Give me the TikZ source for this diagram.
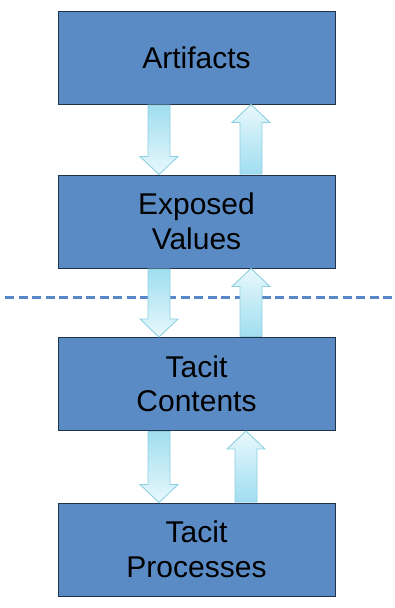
\documentclass[tikz,border=0pt]{standalone}
\usepackage{fontspec}
\setmainfont{Liberation Sans}
\usetikzlibrary{calc}
\definecolor{boxblue}{RGB}{91,139,197}
\definecolor{boxline}{RGB}{35,50,75}
\definecolor{dashblue}{RGB}{88,135,200}
\definecolor{arrdark}{RGB}{160,222,240}
\definecolor{arrlight}{RGB}{232,248,252}
\definecolor{arrline}{RGB}{140,208,226}
\tikzset{
  level/.style={draw=boxline, line width=1pt, fill=boxblue, minimum width=277pt, minimum height=93pt,
    inner sep=0pt, align=center, font=\fontsize{30}{34.5}\selectfont, text=black},
  fatarr/.style={draw=arrline, line width=0.9pt, line join=miter},
  downshade/.style={top color=arrdark, bottom color=arrlight},
  upshade/.style={top color=arrlight, bottom color=arrdark},
  sep/.style={draw=dashblue, line width=3pt, dash pattern=on 9pt off 4.5pt},
}
% #1 tail coordinate, #2 tip coordinate, #3 shading style
\newcommand\fatarrow[3]{%
  \path[fatarr, #3]
    ($(#1)!11pt!90:(#2)$) --
    ($($(#2)!18pt!(#1)$)!11pt!90:(#2)$) --
    ($($(#2)!18pt!(#1)$)!19pt!90:(#2)$) --
    (#2) --
    ($($(#2)!18pt!(#1)$)!19pt!-90:(#2)$) --
    ($($(#2)!18pt!(#1)$)!11pt!-90:(#2)$) --
    ($(#1)!11pt!-90:(#2)$) -- cycle;%
}
\begin{document}
\begin{tikzpicture}[x=1pt,y=-1pt]
  \useasboundingbox (0,0) rectangle (395,608);
  \node[level] (art) at (196.5,57.5) {Artifacts};
  \node[level] (exp) at (196.5,221.5) {Exposed\\Values};
  \node[level] (tc)  at (196.5,384) {Tacit\\Contents};
  \node[level] (tp)  at (196.5,549.5) {Tacit\\Processes};
  \coordinate (sepL) at (5,297.5);
  \coordinate (sepR) at (395,297.5);
  \draw[sep] (sepL) -- (sepR);
  % down arrows
  \coordinate (d1t) at ($(art.south)+(-37.5,0.5)$);
  \coordinate (d1h) at ($(exp.north)+(-37.5,0)$);
  \coordinate (d2t) at ($(exp.south)+(-37.5,0.5)$);
  \coordinate (d2h) at ($(tc.north)+(-37.5,0)$);
  \coordinate (d3t) at ($(tc.south)+(-37.5,0.5)$);
  \coordinate (d3h) at ($(tp.north)+(-37.5,0)$);
  % up arrows
  \coordinate (u1t) at ($(exp.north)+(54.5,-0.5)$);
  \coordinate (u1h) at ($(art.south)+(54.5,0)$);
  \coordinate (u2t) at ($(tc.north)+(54.5,-0.5)$);
  \coordinate (u2h) at ($(exp.south)+(54.5,0)$);
  \coordinate (u3t) at ($(tp.north)+(49.5,-0.5)$);
  \coordinate (u3h) at ($(tc.south)+(49.5,0)$);
  \fatarrow{d1t}{d1h}{downshade}
  \fatarrow{d2t}{d2h}{downshade}
  \fatarrow{d3t}{d3h}{downshade}
  \fatarrow{u1t}{u1h}{upshade}
  \fatarrow{u2t}{u2h}{upshade}
  \fatarrow{u3t}{u3h}{upshade}
\end{tikzpicture}
\end{document}
